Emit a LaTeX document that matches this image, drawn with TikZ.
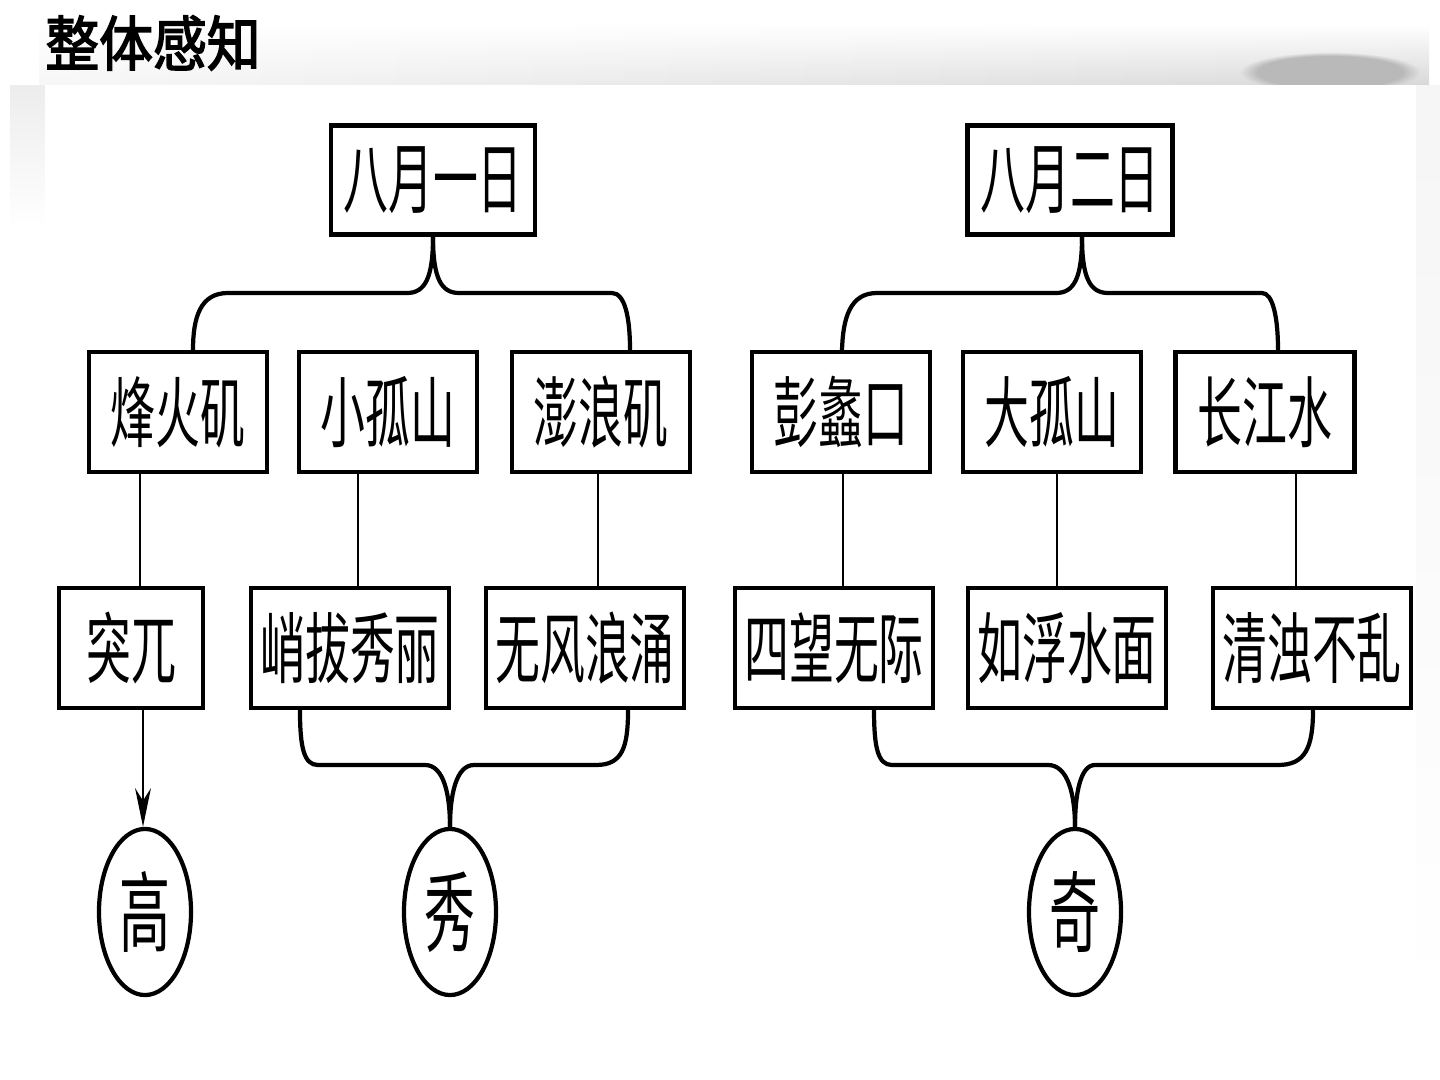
\documentclass[tikz,border=0pt]{standalone}
\usepackage{fontspec}
\newfontfamily\cjk[FakeStretch=0.58]{Noto Sans CJK SC}
\newfontfamily\cjktitle[FakeStretch=0.9,FakeBold=2.5]{Noto Sans CJK SC}
\usetikzlibrary{shapes.geometric,arrows.meta,fadings}

\tikzset{
    box/.style={draw, line width=1.2pt, minimum height=1.2cm, inner sep=0pt,
        font=\cjk\fontsize{22}{22}\selectfont},
    oval/.style={draw, ellipse, line width=1.2pt, minimum width=0.92cm,
        minimum height=1.66cm, inner sep=0pt, font=\cjk\fontsize{25}{25}\selectfont},
    brace/.style={line width=1.2pt},
    link/.style={line width=0.8pt}
}

\begin{document}
\begin{tikzpicture}[x=0.01cm,y=-0.01cm]
    \useasboundingbox (0,0) rectangle (1440,1080);
    % brush stroke behind the title
    \fill[white] (0,0) rectangle (1440,1080);
    \shade[left color=gray!6, right color=gray!30, path fading=north] (40,25) rectangle (1430,85);
    \fill[gray!55, path fading=circle with fuzzy edge 20 percent] (1240,52) rectangle (1420,92);
    \fill[white] (45,85) rectangle (1416,1080);
    \fill[gray!14, path fading=south] (10,85) rectangle (45,225);
    \fill[gray!7, path fading=south] (1416,85) rectangle (1440,960);

    \node[font=\cjktitle\fontsize{17}{17}\selectfont] (title) at (153,43) {整体感知};

    % first day
    \node[box, minimum width=2.04cm, minimum height=1.09cm] (d1) at (433,180) {八月一日};
    \node[box, minimum width=1.78cm] (fhj) at (178,412) {烽火矶};
    \node[box, minimum width=1.78cm] (xgs) at (388,412) {小孤山};
    \node[box, minimum width=1.78cm] (plj) at (601,412) {澎浪矶};
    \node[box, minimum width=1.44cm] (tw) at (131,648) {突兀};
    \node[box, minimum width=1.98cm] (qbxl) at (350,648) {峭拔秀丽};
    \node[box, minimum width=1.98cm] (wflh) at (585,648) {无风浪涌};
    \node[oval] (gao) at (145,912) {高};
    \node[oval] (xiu) at (450,912) {秀};

    % second day
    \node[box, minimum width=2.05cm, minimum height=1.09cm] (d2) at (1070,180) {八月二日};
    \node[box, minimum width=1.78cm] (plk) at (841,412) {彭蠡口};
    \node[box, minimum width=1.78cm] (dgs) at (1052,412) {大孤山};
    \node[box, minimum width=1.79cm] (cjs) at (1265,412) {长江水};
    \node[box, minimum width=1.98cm] (swwj) at (834,648) {四望无际};
    \node[box, minimum width=1.98cm] (rfsm) at (1067,648) {如浮水面};
    \node[box, minimum width=1.98cm] (qzbl) at (1312,648) {清浊不乱};
    \node[oval] (qi) at (1075,912) {奇};

    % brace ends
    \coordinate (t1l) at ([xshift=0.15cm]fhj.north);
    \coordinate (t1r) at ([xshift=0.29cm]plj.north);
    \coordinate (t2m) at ([xshift=0.12cm]d2.south);
    \coordinate (t2l) at ([xshift=0.01cm]plk.north);
    \coordinate (t2r) at ([xshift=0.13cm]cjs.north);
    \coordinate (b1l) at ([xshift=-0.50cm]qbxl.south);
    \coordinate (b1r) at ([xshift=0.43cm]wflh.south);
    \coordinate (b2l) at ([xshift=0.40cm]swwj.south);
    \coordinate (b2r) at ([xshift=0.01cm]qzbl.south);

    % top braces
    \draw[brace] (d1.south) .. controls (433,278) and (425,293) .. (407,293) -- (228,293)
        .. controls (200,293) and (193,318) .. (t1l);
    \draw[brace] (d1.south) .. controls (433,278) and (441,293) .. (459,293) -- (612,293)
        .. controls (625,293) and (630,318) .. (t1r);
    \draw[brace] (t2m) .. controls (1082,278) and (1074,293) .. (1056,293) -- (877,293)
        .. controls (850,293) and (843,318) .. (t2l);
    \draw[brace] (t2m) .. controls (1082,278) and (1090,293) .. (1108,293) -- (1262,293)
        .. controls (1273,293) and (1278,318) .. (t2r);

    % bottom braces
    \draw[brace] (b1l) .. controls (300,748) and (304,765) .. (318,765) -- (425,765)
        .. controls (444,765) and (450,795) .. (xiu.north);
    \draw[brace] (b1r) .. controls (628,748) and (622,765) .. (596,765) -- (474,765)
        .. controls (456,765) and (450,795) .. (xiu.north);
    \draw[brace] (b2l) .. controls (874,748) and (878,765) .. (892,765) -- (1048,765)
        .. controls (1068,765) and (1075,795) .. (qi.north);
    \draw[brace] (b2r) .. controls (1313,748) and (1305,765) .. (1278,765) -- (1095,765)
        .. controls (1080,765) and (1075,795) .. (qi.north);

    % links between rows
    \coordinate (c1) at ([xshift=-0.38cm]fhj.south);
    \coordinate (c2) at ([xshift=-0.30cm]xgs.south);
    \coordinate (c3) at ([xshift=-0.03cm]plj.south);
    \coordinate (c4) at ([xshift=0.02cm]plk.south);
    \coordinate (c5) at ([xshift=0.05cm]dgs.south);
    \coordinate (c6) at ([xshift=0.31cm]cjs.south);
    \draw[link] (c1) -- (c1 |- tw.north);
    \draw[link] (c2) -- (c2 |- qbxl.north);
    \draw[link] (c3) -- (c3 |- wflh.north);
    \draw[link] (c4) -- (c4 |- swwj.north);
    \draw[link] (c5) -- (c5 |- rfsm.north);
    \draw[link] (c6) -- (c6 |- qzbl.north);

    \coordinate (a1) at ([xshift=0.12cm]tw.south);
    \draw[link, -{Stealth[length=11pt, width=4.5pt]}] (a1) -- (a1 |- gao.north);
\end{tikzpicture}
\end{document}
